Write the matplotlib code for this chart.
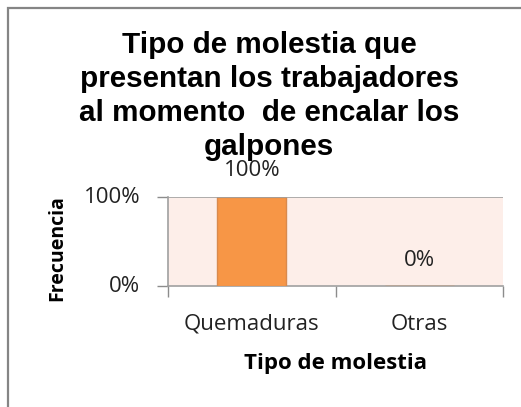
import matplotlib.pyplot as plt
from matplotlib.patches import Rectangle

categorias = ["Quemaduras", "Otras"]
frecuencias = [1.0, 0.0]
etiquetas = ["100%", "0%"]
y_ticks = [0, 1]
y_labels = ["0%", "100%"]

W, H = 521, 407
fig = plt.figure(figsize=(W / 100, H / 100), dpi=100)

# marco del gráfico (se sale por la derecha y por abajo)
fig.patches.append(Rectangle((8 / W, -0.05), 1.1, 1 - 8 / H + 0.05, transform=fig.transFigure,
                             fill=False, edgecolor="#858585", linewidth=1.6))

ax = fig.add_axes([168 / W, 1 - 286 / H, (503 - 168) / W, (286 - 197) / H])
ax.set_facecolor("#FDEEE9")
ax.bar(range(len(categorias)), frecuencias, width=0.41, color="#F79646",
       edgecolor="#D98A4E", linewidth=1, zorder=3)
ax.set_xlim(-0.5, 1.5)
ax.set_ylim(0, 1)

FS = 16
ax.set_yticks(y_ticks)
ax.set_yticklabels(y_labels)
ax.set_xticks([-0.5, 0.5, 1.5])
ax.set_xticklabels([])
ax.set_xticks([0, 1], minor=True)
ax.set_xticklabels(categorias, minor=True)
ax.tick_params(axis="x", which="minor", length=0, pad=20)
ax.tick_params(axis="x", which="major", length=8, color="#8C8C8C", width=1)
ax.tick_params(axis="y", length=8, color="#8C8C8C", width=1, pad=12)
for lbl in ax.get_xticklabels(minor=True) + ax.get_yticklabels():
    lbl.set_fontfamily("Open Sans")
    lbl.set_fontsize(FS)
    lbl.set_color("#222222")
for lbl in ax.get_yticklabels():
    lbl.set_va("center")

ax.axhline(1, color="#A0A0A0", linewidth=1.2, zorder=4)
for s in ["top", "right"]:
    ax.spines[s].set_visible(False)
for s in ["left", "bottom"]:
    ax.spines[s].set_color("#A0A0A0")
    ax.spines[s].set_linewidth(1.2)

# etiquetas de datos
ax.text(0, (286 - 170) / (286 - 197), etiquetas[0], ha="center", va="center", fontsize=FS,
        family="Open Sans", color="#222222")
ax.text(1, (286 - 261) / (286 - 197), etiquetas[1], ha="center", va="center", fontsize=FS,
        family="Open Sans", color="#222222")

ax.set_xlabel("Tipo de molestia", fontsize=16, fontweight="bold", family="Open Sans")
ax.set_ylabel("Frecuencia", fontsize=14, fontweight="bold", family="Open Sans")
ax.xaxis.set_label_coords((335 - 168) / (503 - 168), (286 - 363) / (286 - 197))
ax.yaxis.set_label_coords((57 - 168) / (503 - 168), (286 - 248) / (286 - 197))
ax.xaxis.label.set_va("center")
ax.yaxis.label.set_va("center")

fig.text(269 / W, 1 - 31 / H,
         "Tipo de molestia que\npresentan los trabajadores\nal momento  de encalar los\ngalpones",
         ha="center", va="top", fontsize=21.3, fontweight="bold",
         family="Liberation Sans", linespacing=1.28)

fig.savefig("out.png", dpi=100)
